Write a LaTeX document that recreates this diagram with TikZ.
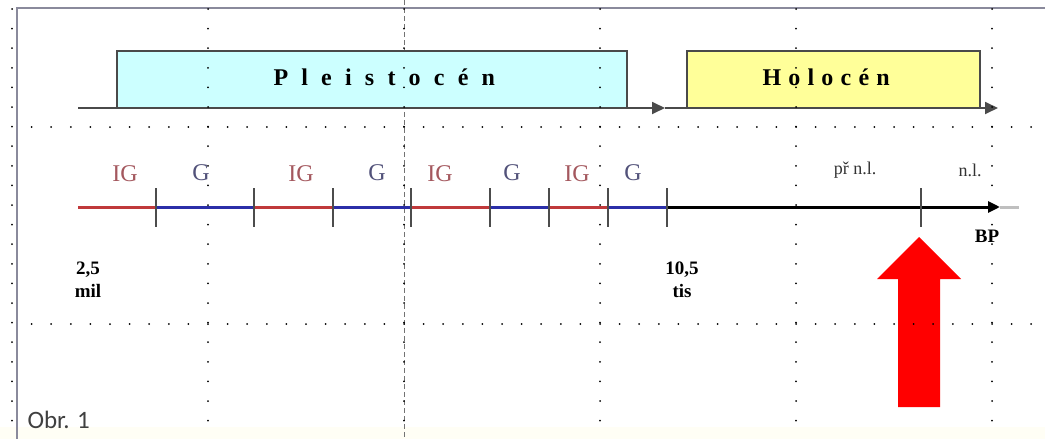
\documentclass[tikz,border=0pt]{standalone}
\usepackage{fontspec}
\setmainfont{Liberation Serif}
\newfontfamily\obrfont{Carlito}
\newfontfamily\pleifont[LetterSpace=55]{Liberation Serif}
\newfontfamily\holofont[LetterSpace=30]{Liberation Serif}
\usetikzlibrary{arrows.meta,positioning}
\definecolor{framec}{HTML}{8A8A9C}
\definecolor{pleic}{HTML}{CCFFFF}
\definecolor{holoc}{HTML}{FFFF99}
\definecolor{igc}{HTML}{C0393B}
\definecolor{gc}{HTML}{2B2FA8}
\definecolor{igtext}{HTML}{A4585E}
\definecolor{gtext}{HTML}{52527A}
\definecolor{boxline}{HTML}{4A4A4A}
\tikzset{gdot/.style={fill=black},
  epoch/.style={draw=boxline,line width=1.6pt,inner sep=0pt},
  base/.style={draw=boxline,line width=1.8pt},
  igseg/.style={draw=igc,line width=3pt},
  gseg/.style={draw=gc,line width=3pt},
  tick/.style={draw=black!70,line width=1.6pt},
  ig/.style={text=igtext,font=\fontsize{24}{24}\selectfont},
  gl/.style={text=gtext,font=\fontsize{24}{24}\selectfont},
  era/.style={text=black!80,font=\fontsize{18}{18}\selectfont},
  num/.style={font=\bfseries\fontsize{19}{23}\selectfont,align=center,inner sep=0pt}}
\begin{document}
\begin{tikzpicture}[x=1pt,y=-1pt]
\useasboundingbox (0,0) rectangle (1045,439);
\fill[white] (0,0) rectangle (1045,439);
\fill[yellow!4] (0,427) rectangle (1045,439);
% frame of the sheet
\draw[framec,line width=2pt] (17,439) -- (17,8) -- (1045,8);
\draw[black!55,line width=0.8pt,dash pattern=on 5pt off 3pt] (404,0) -- (404,439);
% epochs
\node[epoch,fill=pleic,minimum width=510pt,minimum height=57pt] (plei) at (372,79.5) {};
\node[epoch,fill=holoc,minimum width=293pt,minimum height=57pt] (holo) at (833.5,79.5) {};
\node[anchor=west,font=\pleifont\bfseries\fontsize{24}{24}\selectfont] (pleitxt) at (270,77) {Pleistocén};
\node[anchor=west,font=\holofont\bfseries\fontsize{24}{24}\selectfont] (holotxt) at (759,77) {Holocén};
\coordinate (b0) at (78,108);
\coordinate (b1) at (665,108);
\coordinate (b2) at (998,108);
\draw[base,-{Triangle[length=13pt,width=12pt]}] (b0) -- (b1);
\draw[base,-{Triangle[length=13pt,width=12pt]}] (b1) -- (b2);
% time axis
\coordinate (t0) at (78,207);
\coordinate (t1) at (156,207);
\coordinate (t2) at (254,207);
\coordinate (t3) at (333,207);
\coordinate (t4) at (411,207);
\coordinate (t5) at (490,207);
\coordinate (t6) at (549,207);
\coordinate (t7) at (608,207);
\coordinate (t8) at (667,207);
\coordinate (tn) at (921,207);
\coordinate (tend) at (1000,207);
\coordinate (tgray) at (1019,207);
\draw[black!25,line width=3pt] (tend) -- (tgray);
\draw[igseg] (t0) -- (t1);
\draw[gseg] (t1) -- (t2);
\draw[igseg] (t2) -- (t3);
\draw[gseg] (t3) -- (t4);
\draw[igseg] (t4) -- (t5);
\draw[gseg] (t5) -- (t6);
\draw[igseg] (t6) -- (t7);
\draw[gseg] (t7) -- (t8);
\draw[black,line width=3pt,-{Triangle[length=12pt,width=11pt]}] (t8) -- (tend);
\foreach \t in {t1,t2,t3,t4,t5,t6,t7,t8,tn}
  \draw[tick] ([yshift=19pt]\t) -- ([yshift=-20pt]\t);
\foreach \x/\n in {125/1,301/2,440/3,577/4}
  \node[ig] (ig\n) at (\x,174) {IG};
\foreach \x/\n in {201/1,377/2,512/3,633/4}
  \node[gl] (g\n) at (\x,173) {G};
\node[era] (prnl) at (855,170) {př n.l.};
\node[era] (nl) at (970,170) {n.l.};
\node[num] (bp) at (987,236) {BP};
\node[num] (mil) at (88,280) {2,5\\mil};
\node[num] (tis) at (682,280) {10,5\\tis};
% pointer
\fill[red] (898,407) -- (898,279) -- (877,279) -- (919,237) -- (961,279)
  -- (940,279) -- (940,407) -- cycle;
\node[anchor=west,text=black!75,font=\obrfont\fontsize{25}{25}\selectfont] (obr) at (24,420) {Obr. 1};
% dotted grid
\foreach \gx in {12,208,404,600,796,992}
  \foreach \k in {0,...,21}
    \fill[gdot] (\gx,9+\k*19.6) circle (1pt);
\foreach \gy in {127,324}
  \foreach \k in {1,...,52}
    \fill[gdot] (12+\k*19.6,\gy) circle (1pt);
\end{tikzpicture}
\end{document}
